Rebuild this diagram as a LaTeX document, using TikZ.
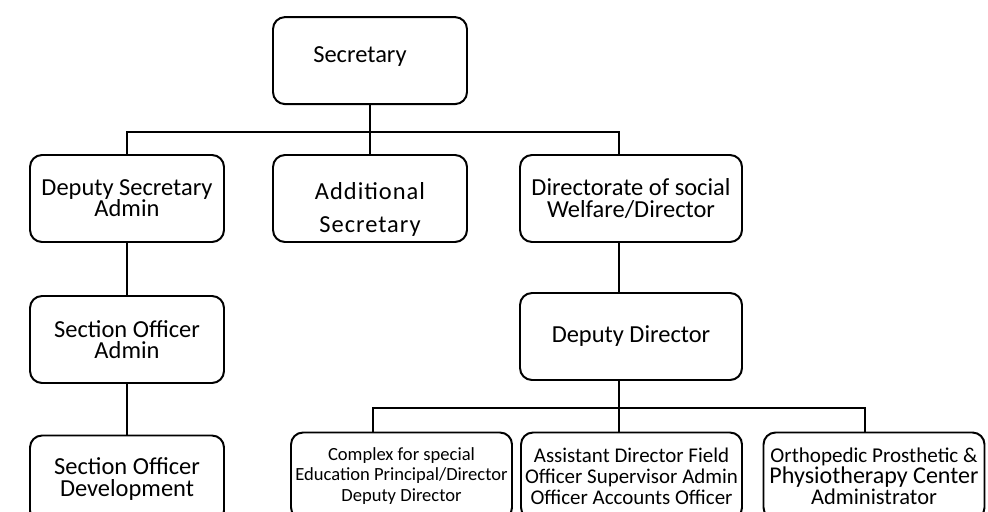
\documentclass[tikz,border=0pt]{standalone}
\usepackage{fontspec}
\setmainfont{Carlito}

\begin{document}
\begin{tikzpicture}[
    orgbox/.style={draw, line width=1.4pt, rounded corners=0.3cm, align=center, inner sep=0pt, minimum height=2.175cm, font=\fontsize{17.4pt}{15pt}\selectfont},
    smallbox/.style={orgbox, minimum width=5.525cm, font=\fontsize{13.2pt}{14.9pt}\selectfont},
    link/.style={line width=1.4pt}
]
    \clip (0,0) rectangle (24.7,12.775);
    \node[orgbox, minimum width=4.85cm, text depth=0.3cm] (secretary) at (9.25,11.26) {Secretary\hspace*{0.5cm}};

    \node[orgbox, minimum width=4.85cm] (depsec) at (3.175,7.8125) {Deputy Secretary\\Admin};
    \node[orgbox, minimum width=4.85cm, font=\fontsize{17.4pt}{15pt}\selectfont\addfontfeature{LetterSpace=4}] (addsec) at (9.25,7.8125) {\rule{0pt}{28pt}Additional\\[0.3cm]Secretary};
    \node[orgbox, minimum width=5.55cm] (directorate) at (15.775,7.8125) {Directorate of social\\Welfare/Director};

    \node[orgbox, minimum width=4.85cm] (soadmin) at (3.175,4.2875) {Section Officer\\Admin};
    \node[orgbox, minimum width=5.55cm] (depdir) at (15.775,4.3625) {Deputy Director};

    \node[orgbox, minimum width=4.85cm] (sodev) at (3.175,0.8) {Section Officer\\Development};
    \node[smallbox] (complex) at (10.0375,0.875) {Complex for special\\Education Principal/Director\\Deputy Director};
    \node[smallbox, font=\fontsize{14.9pt}{14.9pt}\selectfont] (assistant) at (15.7875,0.875) {Assistant Director Field\\Officer Supervisor Admin\\Officer Accounts Officer};
    \node[smallbox, font=\fontsize{15pt}{14.9pt}\selectfont] (orthopedic) at (21.85,0.875) {Orthopedic Prosthetic \&\\{\fontsize{17.1pt}{14.9pt}\selectfont Physiotherapy Center}\\{\fontsize{16pt}{14.9pt}\selectfont Administrator}};

    \coordinate (bus) at (0,9.475);
    \coordinate (lowbus) at (0,2.575);

    \draw[link] (secretary.south) -- (addsec.north);
    \draw[link] (depsec.north) |- ([xshift=-0.3cm]directorate.north |- bus) -- ([xshift=-0.3cm]directorate.north);
    \draw[link] (depsec.south) -- (soadmin.north);
    \draw[link] (soadmin.south) -- (sodev.north);
    \draw[link] ([xshift=-0.3cm]directorate.south) -- ([xshift=-0.3cm]depdir.north);
    \draw[link] ([xshift=-0.3cm]depdir.south) -- ([xshift=-0.3cm]depdir.south |- assistant.north);
    \draw[link] ([xshift=-0.7125cm]complex.north) |- ([xshift=-0.225cm]orthopedic.north |- lowbus) -- ([xshift=-0.225cm]orthopedic.north);
\end{tikzpicture}
\end{document}
